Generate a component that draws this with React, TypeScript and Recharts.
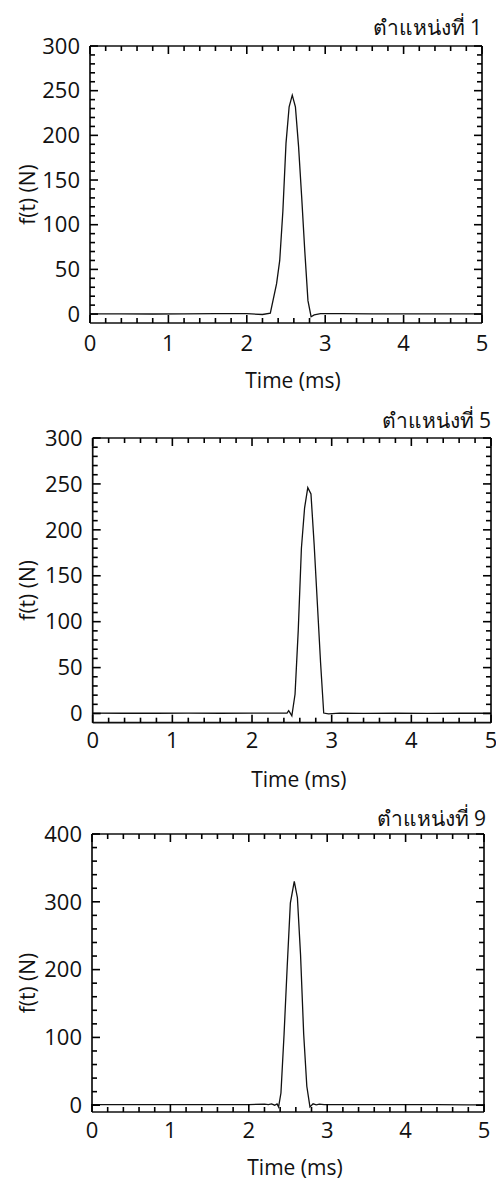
import { LineChart, Line, XAxis, YAxis } from "recharts";

const INK = "#111";
const FONT = "'Open Sans', 'Noto Sans', sans-serif";

// time axis (ms) shared by all three panels
const timeTicks = [0, 0.2, 0.4, 0.6, 0.8, 1, 1.2, 1.4, 1.6, 1.8, 2, 2.2, 2.4, 2.6, 2.8, 3, 3.2, 3.4, 3.6, 3.8, 4, 4.2, 4.4, 4.6, 4.8, 5];

// panel 1 : ตำแหน่งที่ 1
const time1 = [0, 0.4, 0.8, 1.2, 1.6, 2.0, 2.2, 2.3, 2.38, 2.42, 2.46, 2.5, 2.54, 2.58, 2.62, 2.66, 2.7, 2.74, 2.78, 2.82, 2.86, 2.94, 3.2, 3.6, 4.0, 4.4, 4.8, 5.0];
const force1 = [0.3, 0.2, 0.1, 0.2, 0.4, 0.5, -0.5, 1, 34, 60, 115, 191, 232, 245, 232, 188, 131, 70, 15, -3, -1, 0.5, 0.4, 0.3, 0.3, 0.2, 0.3, 0.3];

// panel 2 : ตำแหน่งที่ 5
const time2 = [0, 0.4, 0.8, 1.2, 1.6, 2.0, 2.3, 2.44, 2.46, 2.48, 2.5, 2.54, 2.58, 2.62, 2.66, 2.7, 2.74, 2.78, 2.82, 2.86, 2.9, 2.96, 3.1, 3.4, 3.8, 4.2, 4.6, 5.0];
const force2 = [0.4, 0.3, 0.3, 0.4, 0.3, 0.4, 0.5, 0.4, 3, 0.4, -2.5, 21, 90, 180, 224, 246, 239, 184, 120, 56, 0.5, -0.3, 0.4, 0.2, 0.3, 0.2, 0.3, 0.3];

// panel 3 : ตำแหน่งที่ 9
const time3 = [0, 0.4, 0.8, 1.2, 1.6, 2.0, 2.2, 2.25, 2.29, 2.33, 2.36, 2.38, 2.41, 2.45, 2.49, 2.53, 2.58, 2.62, 2.66, 2.7, 2.74, 2.78, 2.82, 2.86, 2.9, 2.96, 3.2, 3.6, 4.0, 4.4, 4.8, 5.0];
const force3 = [1, 1, 1, 1, 1, 1, 1.5, 1, 2, 0, 2, -2.5, 18, 105, 205, 298, 330, 306, 222, 105, 28, -2.5, 2, 0.5, 1.5, 1, 1, 1, 1, 1, 0.5, 0.5];

const forceTicks300 = [0, 10, 20, 30, 40, 50, 60, 70, 80, 90, 100, 110, 120, 130, 140, 150, 160, 170, 180, 190, 200, 210, 220, 230, 240, 250, 260, 270, 280, 290, 300];
const forceTicks400 = [0, 20, 40, 60, 80, 100, 120, 140, 160, 180, 200, 220, 240, 260, 280, 300, 320, 340, 360, 380, 400];

const isWhole = (v: number) => Math.abs(v - Math.round(v)) < 1e-6;

// inward tick mark (long for majors), plus the number for labelled sides
function BoxTick(props: any) {
  const { payload, side, major, label, gap } = props;
  const x = Number(props.x);
  const y = Number(props.y);
  const v = payload.value;
  const big = major(v);
  const len = big ? 8 : 5;
  let dx = 0;
  let dy = 0;
  if (side === "bottom") dy = -len;
  if (side === "top") dy = len;
  if (side === "left") dx = len;
  if (side === "right") dx = -len;
  return (
    <g>
      <path d={`M${x},${y}l${dx},${dy}`} stroke="#000" strokeWidth={1.6} fill="none" />
      {label && big && side === "bottom" && (
        <text x={x} y={y + gap} dy="0.35em" textAnchor="middle" fontSize={22} fontFamily={FONT} fill={INK}>
          {v}
        </text>
      )}
      {label && big && side === "left" && (
        <text x={x - gap} y={y} dy="0.35em" textAnchor="end" fontSize={22} fontFamily={FONT} fill={INK}>
          {v}
        </text>
      )}
    </g>
  );
}

type PanelProps = {
  top: number;
  height: number;
  plot: { top: number; right: number; bottom: number; left: number };
  time: number[];
  force: number[];
  yMax: number;
  yTicks: number[];
  yStep: number;
  xGap: number;
  title: string;
  titleX: number;
  titleY: number;
  xTitleY: number;
};

function Panel(p: PanelProps) {
  const data = p.time.map((t, i) => ({ t, f: p.force[i] }));
  const yMajor = (v: number) => v % p.yStep === 0;
  const axisLine = { stroke: INK, strokeWidth: 1.7 };
  const plotLeft = p.plot.left;
  const plotRight = 496 - p.plot.right;
  const plotTop = p.plot.top;
  const plotBottom = p.height - p.plot.bottom;
  // every axis takes 1px, so the margins are 1px smaller than the plot offsets
  const margin = {
    top: p.plot.top - 1,
    right: p.plot.right - 1,
    bottom: p.plot.bottom - 1,
    left: p.plot.left - 1,
  };
  const common = {
    allowDataOverflow: true,
    interval: 0 as const,
    tickSize: 0,
    tickMargin: 0,
    tickLine: false,
    axisLine,
  };
  return (
    <div style={{ position: "absolute", left: 0, top: p.top, width: 496, height: p.height }}>
      <LineChart width={496} height={p.height} data={data} margin={margin}>
        <XAxis
          {...common}
          xAxisId="b"
          dataKey="t"
          type="number"
          domain={[0, 5]}
          ticks={timeTicks}
          height={1}
          tick={(tp: any) => <BoxTick {...tp} side="bottom" major={isWhole} label gap={p.xGap} />}
        />
        <XAxis
          {...common}
          xAxisId="t"
          orientation="top"
          dataKey="t"
          type="number"
          domain={[0, 5]}
          ticks={timeTicks}
          height={1}
          tick={(tp: any) => <BoxTick {...tp} side="top" major={isWhole} />}
        />
        <YAxis
          {...common}
          yAxisId="l"
          type="number"
          domain={[-10, p.yMax]}
          ticks={p.yTicks}
          width={1}
          tick={(tp: any) => <BoxTick {...tp} side="left" major={yMajor} label gap={10} />}
        />
        <YAxis
          {...common}
          yAxisId="r"
          orientation="right"
          type="number"
          domain={[-10, p.yMax]}
          ticks={p.yTicks}
          width={1}
          tick={(tp: any) => <BoxTick {...tp} side="right" major={yMajor} />}
        />
        <Line
          xAxisId="b"
          yAxisId="l"
          type="linear"
          dataKey="f"
          stroke={INK}
          strokeWidth={1.3}
          dot={false}
          isAnimationActive={false}
        />
        <Line
          xAxisId="t"
          yAxisId="r"
          type="linear"
          dataKey="f"
          stroke="none"
          dot={false}
          isAnimationActive={false}
        />
      </LineChart>
      <svg
        width={496}
        height={p.height}
        style={{ position: "absolute", left: 0, top: 0, pointerEvents: "none" }}
      >
        <text x={p.titleX} y={p.titleY} textAnchor="end" fontSize={21} fontFamily={FONT} fill={INK}>
          {p.title}
        </text>
        <text
          x={(plotLeft + plotRight) / 2 + 7}
          y={p.xTitleY}
          dy="0.35em"
          textAnchor="middle"
          fontSize={21}
          fontFamily={FONT}
          fill={INK}
        >
          Time (ms)
        </text>
        <text
          x={27.5}
          y={(plotTop + plotBottom) / 2 + 10}
          dy="0.35em"
          textAnchor="middle"
          fontSize={21}
          fontFamily={FONT}
          fill={INK}
          transform={`rotate(-90 27.5 ${(plotTop + plotBottom) / 2 + 10})`}
        >
          f(t) (N)
        </text>
      </svg>
    </div>
  );
}

export default function App() {
  return (
    <div style={{ position: "absolute", left: 0, top: 0, width: 496, height: 1182, background: "#fff" }}>
      <Panel
        top={0}
        height={400}
        plot={{ top: 46, right: 14, bottom: 77, left: 90 }}
        time={time1}
        force={force1}
        yMax={300}
        yTicks={forceTicks300}
        yStep={50}
        xGap={20.5}
        title="ตำแหน่งที่ 1"
        titleX={482}
        titleY={35}
        xTitleY={380.7}
      />
      <Panel
        top={400}
        height={400}
        plot={{ top: 38, right: 5, bottom: 77.3, left: 92.7 }}
        time={time2}
        force={force2}
        yMax={300}
        yTicks={forceTicks300}
        yStep={50}
        xGap={17.5}
        title="ตำแหน่งที่ 5"
        titleX={491}
        titleY={28}
        xTitleY={380}
      />
      <Panel
        top={800}
        height={382}
        plot={{ top: 34, right: 12, bottom: 70, left: 92 }}
        time={time3}
        force={force3}
        yMax={400}
        yTicks={forceTicks400}
        yStep={100}
        xGap={18.5}
        title="ตำแหน่งที่ 9"
        titleX={486}
        titleY={26}
        xTitleY={368}
      />
    </div>
  );
}
